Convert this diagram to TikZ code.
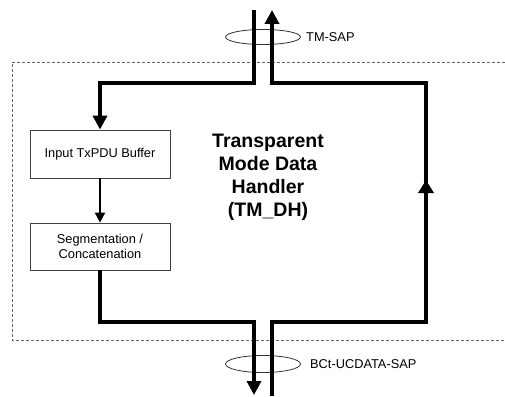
\documentclass[tikz,border=0pt]{standalone}
\usepackage{fontspec}
\setmainfont{Liberation Sans}
\usetikzlibrary{arrows.meta,decorations.markings}
\begin{document}
\begin{tikzpicture}[x=1pt,y=-1pt,
  flow/.style={line width=4.5pt},
  tipA/.style={-{Triangle[length=14pt,width=14pt]}},
  blk/.style={draw=black!75,line width=0.8pt,minimum width=140pt,inner sep=0pt,font=\fontsize{12.8}{15}\selectfont,align=center},
  sap/.style={draw=black!80,line width=0.8pt},
  lbl/.style={font=\fontsize{12.8}{15}\selectfont,anchor=west,inner sep=0pt},
  frame/.style={draw=black!60,line width=0.8pt,dash pattern=on 3pt off 2pt}]
\useasboundingbox (0,0) rectangle (505,396);
% frame
\draw[frame] (505,62) -- (12,62) -- (12,340) -- (505,340);
% SAP ellipses
\draw[sap] (263,37) ellipse [x radius=37.5, y radius=7.5];
\draw[sap] (263,364) ellipse [x radius=37.5, y radius=8.5];
\node[lbl] (tmsap) at (306,37) {TM-SAP};
\node[lbl] (bcsap) at (310,364) {BCt-UCDATA-SAP};
% blocks
\node[blk,minimum height=48pt] (inbuf) at (100,154) {Input TxPDU Buffer};
\node[blk,minimum height=47pt] (seg) at (100,246.5) {Segmentation /\\Concatenation};
\node[font=\fontsize{19.5}{23}\selectfont\bfseries,align=center] (title) at (268,177) {Transparent\\Mode Data\\Handler\\(TM\_DH)};
% coordinates
\coordinate (inTop) at (254,10);
\coordinate (inCorner) at (254,83);
\coordinate (inLeft) at (100,83);
\coordinate (outBot) at (254,395);
\coordinate (segCorner) at (100,322);
\coordinate (outCorner) at (254,322);
\coordinate (rBot) at (272,396);
\coordinate (rC1) at (272,322);
\coordinate (rC2) at (426,322);
\coordinate (rC3) at (426,83);
\coordinate (rC4) at (272,83);
\coordinate (rTop) at (272,10);
% flows
\draw[flow,tipA] (inTop) -- (inCorner) -- (inLeft) -- (inbuf.north);
\draw[flow,tipA] (seg.south) -- (segCorner) -- (outCorner) -- (outBot);
\draw[flow,tipA,postaction={decorate},
  decoration={markings,mark=at position 370pt with {\arrow{Triangle[length=13pt,width=15pt]}}}]
  (rBot) -- (rC1) -- (rC2) -- (rC3) -- (rC4) -- (rTop);
\draw[line width=2pt,-{Triangle[length=10pt,width=10pt]}] (inbuf.south) -- (seg.north);
\end{tikzpicture}
\end{document}
